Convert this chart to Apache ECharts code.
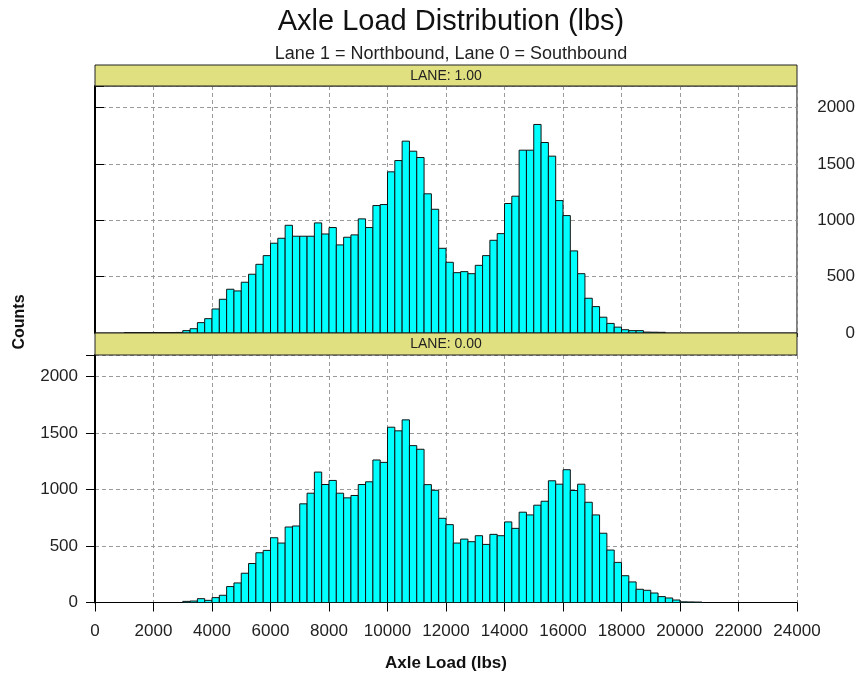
<!DOCTYPE html>
<html>
<head>
<meta charset="utf-8">
<script src="https://cdn.jsdelivr.net/npm/echarts@6/dist/echarts.min.js"></script>
<style>
html,body{margin:0;padding:0;background:#fff;}
#chart{width:862px;height:675px;}
</style>
</head>
<body>
<div id="chart"></div>
<script>
// Histogram bin starts (lbs), bin width 250
var binStarts = [1000,1250,1500,1750,2000,2250,2500,2750,
  3000,3250,3500,3750,4000,4250,4500,4750,5000,5250,5500,5750,
  6000,6250,6500,6750,7000,7250,7500,7750,8000,8250,8500,8750,9000,9250,9500,9750,
  10000,10250,10500,10750,11000,11250,11500,11750,
  12000,12250,12500,12750,13000,13250,13500,13750,14000,14250,14500,14750,
  15000,15250,15500,15750,16000,16250,16500,16750,17000,17250,17500,17750,
  18000,18250,18500,18750,19000,19250,19500,19750,20000,20250,20500];
var binWidth = 250;

// LANE 1.00 (Northbound)
var lane1Counts = [4,4,4,4,4,4,4,5,
  21,38,92,127,213,299,388,373,450,521,609,686,
  796,840,955,858,858,858,976,878,935,781,849,870,1012,935,1130,1139,
  1429,1529,1701,1612,1556,1234,1097,751,
  627,535,544,526,600,686,822,881,1148,1213,1621,1621,
  1849,1689,1568,1174,1041,728,526,308,234,140,85,52,
  29,21,21,8,7,6,0,0,0,0,0];

// LANE 0.00 (Southbound)
var lane0Counts = [0,0,0,0,0,0,0,0,
  10,13,34,19,43,64,141,173,259,345,440,461,
  573,526,668,677,873,967,1154,1044,1080,967,926,947,1044,1068,1261,1240,
  1551,1519,1616,1388,1356,1043,993,745,
  689,526,561,538,591,514,603,591,713,656,799,775,
  861,896,1077,1047,1175,991,1047,887,775,613,464,355,
  237,182,117,108,84,52,40,22,6,5,4];

var xTicks = [0,2000,4000,6000,8000,10000,12000,14000,16000,18000,20000,22000,24000];
var yTicks = [0,500,1000,1500,2000];

var titleText = 'Axle Load Distribution (lbs)';
var subtitleText = 'Lane 1 = Northbound, Lane 0 = Southbound';
var stripLabels = ['LANE: 1.00', 'LANE: 0.00'];
var xName = 'Axle Load (lbs)';
var yName = 'Counts';

function pairs(counts){
  var out = [];
  for (var i = 0; i < binStarts.length; i++) out.push([binStarts[i], counts[i]]);
  return out;
}
function renderHist(params, api){
  var x0 = api.value(0), c = api.value(1);
  if (!c) return null;
  var p0 = api.coord([x0, c]);
  var p1 = api.coord([x0 + binWidth, 0]);
  return {
    type: 'rect',
    shape: {x: p0[0], y: p0[1], width: p1[0] - p0[0], height: p1[1] - p0[1]},
    style: {fill: '#00FFFF', stroke: '#111', lineWidth: 1}
  };
}

var FONT = '"Liberation Sans", Arial, sans-serif';
var dash = {color: '#9a9a9a', type: [4, 3], width: 1};
var yMax = 2190;

var chart = echarts.init(document.getElementById('chart'), null, {renderer: 'canvas'});
chart.setOption({
  animation: false,
  backgroundColor: '#fff',
  textStyle: {fontFamily: FONT},
  title: [
    {text: titleText, left: 446, top: 2, textAlign: 'center',
     textStyle: {fontFamily: FONT, fontSize: 29, fontWeight: 'normal', color: '#111'}},
    {text: subtitleText, left: 446, top: 40, textAlign: 'center',
     textStyle: {fontFamily: FONT, fontSize: 18, fontWeight: 'normal', color: '#222'}}
  ],
  grid: [
    {left: 95, right: 65, top: 86, height: 247, show: true, borderColor: '#000', borderWidth: 1, backgroundColor: '#fff'},
    {left: 95, right: 65, top: 355, height: 247.5, show: false}
  ],
  xAxis: [
    {type: 'value', gridIndex: 0, min: 0, max: 24000, interval: 2000, position: 'top',
     axisLine: {show: false}, axisTick: {show: true, inside: true, length: 4, lineStyle: {color: '#333'}},
     axisLabel: {show: false}, splitLine: {show: true, lineStyle: dash}},
    {type: 'value', gridIndex: 1, min: 0, max: 24000, interval: 2000, position: 'bottom',
     axisLine: {show: true, onZero: false, lineStyle: {color: '#000', width: 1}},
     axisTick: {show: true, inside: false, length: 9, lineStyle: {color: '#000'}},
     axisLabel: {show: true, margin: 20, fontFamily: FONT, fontSize: 17, color: '#222',
       formatter: function(v){ return xTicks.indexOf(v) >= 0 ? String(v) : ''; }},
     splitLine: {show: true, lineStyle: dash},
     name: xName, nameLocation: 'middle', nameGap: 52,
     nameTextStyle: {fontFamily: FONT, fontSize: 17, fontWeight: 'bold', color: '#111'}}
  ],
  yAxis: [
    {type: 'value', gridIndex: 0, min: 0, max: yMax, interval: 500, position: 'right',
     axisLine: {show: true, lineStyle: {color: '#000', width: 2}},
     axisTick: {show: true, inside: false, length: 9, lineStyle: {color: '#000'}},
     axisLabel: {show: true, align: 'right', margin: 58, fontFamily: FONT, fontSize: 17, color: '#222',
       formatter: function(v){ return yTicks.indexOf(v) >= 0 ? String(v) : ''; }},
     splitLine: {show: true, lineStyle: dash}},
    {type: 'value', gridIndex: 1, min: 0, max: yMax, interval: 500, position: 'left',
     axisLine: {show: true, lineStyle: {color: '#000', width: 2}},
     axisTick: {show: true, inside: false, length: 9, lineStyle: {color: '#000'}},
     axisLabel: {show: true, margin: 17, fontFamily: FONT, fontSize: 17, color: '#222',
       formatter: function(v){ return yTicks.indexOf(v) >= 0 ? String(v) : ''; }},
     splitLine: {show: true, lineStyle: dash}}
  ],
  series: [
    {type: 'custom', xAxisIndex: 0, yAxisIndex: 0, renderItem: renderHist, data: pairs(lane1Counts),
     encode: {x: 0, y: 1}, clip: true},
    {type: 'custom', xAxisIndex: 1, yAxisIndex: 1, renderItem: renderHist, data: pairs(lane0Counts),
     encode: {x: 0, y: 1}, clip: true}
  ],
  graphic: [
    {type: 'rect', shape: {x: 95, y: 65, width: 702, height: 21}, z: 100,
     style: {fill: '#E0E080', stroke: '#222', lineWidth: 1}},
    {type: 'text', x: 446, y: 76, z: 101,
     style: {text: stripLabels[0], fill: '#222', font: '14px ' + FONT, textAlign: 'center', textVerticalAlign: 'middle'}},
    {type: 'rect', shape: {x: 95, y: 333, width: 702, height: 22}, z: 100,
     style: {fill: '#E0E080', stroke: '#222', lineWidth: 1}},
    {type: 'text', x: 446, y: 344, z: 101,
     style: {text: stripLabels[1], fill: '#222', font: '14px ' + FONT, textAlign: 'center', textVerticalAlign: 'middle'}},
    {type: 'text', x: 20, y: 322, rotation: Math.PI / 2, z: 101,
     style: {text: yName, fill: '#111', font: 'bold 16px ' + FONT, textAlign: 'center', textVerticalAlign: 'middle'}}
  ]
});
</script>
</body>
</html>
